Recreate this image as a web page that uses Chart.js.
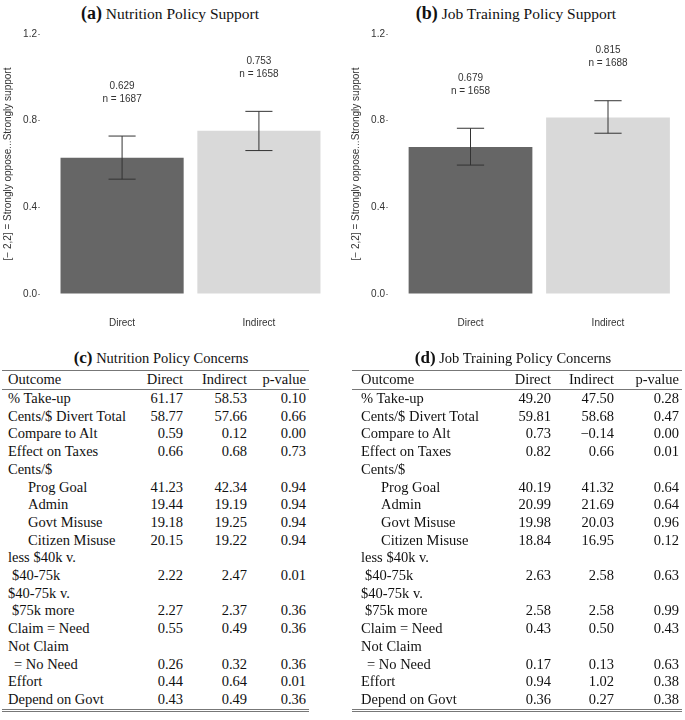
<!DOCTYPE html>
<html>
<head>
<meta charset="utf-8">
<script src="https://cdn.jsdelivr.net/npm/chart.js@4.4.0/dist/chart.umd.min.js"></script>
<style>
body { margin: 0; background: #fff; }
#page { position: relative; width: 685px; height: 720px; overflow: hidden; font-family: "Liberation Serif", "DejaVu Serif", serif; color: #111; }
.panel-title { position: absolute; white-space: nowrap; font-size: 15.5px; transform: translateX(-50%); }
.panel-title b { font-size: 18px; }
.panel-title.small { font-size: 14.5px; }
.panel-title.small b { font-size: 17px; }
.chart-box { position: absolute; top: 0; height: 340px; }
table.concerns { position: absolute; top: 370px; border-collapse: collapse; table-layout: fixed; font-size: 14.5px; border-top: 1px solid #777; border-bottom: 3px double #777; }
table.concerns td, table.concerns th { padding: 0; height: 17.7px; line-height: 17.7px; white-space: nowrap; font-weight: normal; }
table.concerns th { border-bottom: 1px solid #777; height: 18px; }
table.concerns .num { text-align: right; padding-right: 3px; }
table.concerns .lbl { text-align: left; }
</style>
</head>
<body>
<div id="page">
  <div class="panel-title" style="left:170px;top:3px"><b>(a)</b> Nutrition Policy Support</div>
  <div class="panel-title" style="left:516px;top:3px"><b>(b)</b> Job Training Policy Support</div>
  <div class="chart-box" style="left:0;width:341px"><canvas id="chart-nutrition"></canvas></div>
  <div class="chart-box" style="left:340px;width:345px"><canvas id="chart-job"></canvas></div>

  <div class="panel-title small" style="left:161px;top:348px"><b>(c)</b> Nutrition Policy Concerns</div>
  <div class="panel-title small" style="left:513px;top:348px"><b>(d)</b> Job Training Policy Concerns</div>
  <table class="concerns" id="table-nutrition" style="left:2px;width:307px"></table>
  <table class="concerns" id="table-job" style="left:352px;width:330px"></table>
</div>

<script>
// bar panels
const CATEGORIES = ['Direct', 'Indirect'];
const Y_AXIS_TITLE = '[\u2212 2,2] = Strongly oppose...Strongly support';

const NUTR_MEAN = [0.629, 0.753];
const NUTR_LOW = [0.530, 0.662];
const NUTR_HIGH = [0.729, 0.843];
const NUTR_N = [1687, 1658];

const JOB_MEAN = [0.679, 0.815];
const JOB_LOW = [0.595, 0.742];
const JOB_HIGH = [0.765, 0.892];
const JOB_N = [1658, 1688];

// concern tables
const TABLE_HEADER = ['Outcome', 'Direct', 'Indirect', 'p-value'];
const OUTCOMES = ['% Take-up', 'Cents/$ Divert Total', 'Compare to Alt', 'Effect on Taxes', 'Cents/$',
    'Prog Goal', 'Admin', 'Govt Misuse', 'Citizen Misuse', 'less $40k v.', '$40-75k', '$40-75k v.',
    '$75k more', 'Claim = Need', 'Not Claim', '= No Need', 'Effort', 'Depend on Govt'];

const NUTR_DIRECT = [61.17, 58.77, 0.59, 0.66, null, 41.23, 19.44, 19.18, 20.15, null, 2.22, null, 2.27, 0.55, null, 0.26, 0.44, 0.43];
const NUTR_INDIRECT = [58.53, 57.66, 0.12, 0.68, null, 42.34, 19.19, 19.25, 19.22, null, 2.47, null, 2.37, 0.49, null, 0.32, 0.64, 0.49];
const NUTR_P = [0.10, 0.66, 0.00, 0.73, null, 0.94, 0.94, 0.94, 0.94, null, 0.01, null, 0.36, 0.36, null, 0.36, 0.01, 0.36];

const JOB_DIRECT = [49.20, 59.81, 0.73, 0.82, null, 40.19, 20.99, 19.98, 18.84, null, 2.63, null, 2.58, 0.43, null, 0.17, 0.94, 0.36];
const JOB_INDIRECT = [47.50, 58.68, -0.14, 0.66, null, 41.32, 21.69, 20.03, 16.95, null, 2.58, null, 2.58, 0.50, null, 0.13, 1.02, 0.27];
const JOB_P = [0.28, 0.47, 0.00, 0.01, null, 0.64, 0.64, 0.96, 0.12, null, 0.63, null, 0.99, 0.43, null, 0.63, 0.38, 0.38];

const DARK = '#666666';
const LIGHT = '#d9d9d9';
const INK = '#333333';
const SANS = '"Liberation Sans", Arial, sans-serif';

// error bars + "mean / n" labels above each bar
const errorBarPlugin = {
    id: 'errorBars',
    afterDatasetsDraw(chart, args, opts) {
        const { ctx, scales: { x, y } } = chart;
        const bars = chart.getDatasetMeta(0).data;
        ctx.save();
        ctx.strokeStyle = INK;
        ctx.lineWidth = 1;
        ctx.fillStyle = INK;
        ctx.font = `10px ${SANS}`;
        ctx.textAlign = 'center';
        ctx.textBaseline = 'middle';
        opts.low.forEach((lo, i) => {
            const px = x.getPixelForValue(i + 1);
            const yl = y.getPixelForValue(lo);
            const yh = y.getPixelForValue(opts.high[i]);
            const half = bars[i].width * 0.11;
            ctx.beginPath();
            ctx.moveTo(px, yl); ctx.lineTo(px, yh);
            ctx.moveTo(px - half, yl); ctx.lineTo(px + half, yl);
            ctx.moveTo(px - half, yh); ctx.lineTo(px + half, yh);
            ctx.stroke();
            ctx.fillText(opts.means[i].toFixed(3), px, yh - 50);
            ctx.fillText(`n = ${opts.ns[i]}`, px, yh - 37);
        });
        ctx.restore();
    },
};

function renderSupport(id, means, low, high, ns, padLeft, xMax) {
    const canvas = document.getElementById(id);
    if (!canvas) return;

    new Chart(canvas, {
        type: 'bar',
        data: {
            datasets: [{
                data: means.map((m, i) => ({ x: i + 1, y: m })),
                backgroundColor: [DARK, LIGHT],
                borderWidth: 0,
                barPercentage: 0.9,
                categoryPercentage: 1,
            }],
        },
        options: {
            responsive: true,
            maintainAspectRatio: false,
            animation: false,
            layout: { padding: { top: 34, left: padLeft, right: 0, bottom: 0 } },
            plugins: {
                legend: { display: false },
                tooltip: { enabled: false },
                errorBars: { means, low, high, ns },
            },
            scales: {
                x: {
                    type: 'linear',
                    bounds: 'data',
                    offset: false,
                    min: 0.4,
                    max: xMax,
                    afterBuildTicks: (s) => { s.ticks = CATEGORIES.map((c, i) => ({ value: i + 1 })); },
                    afterFit: (s) => { s.height = 46; },
                    grid: { display: false, drawTicks: false, offset: false },
                    border: { display: false },
                    ticks: {
                        autoSkip: false,
                        maxRotation: 0,
                        padding: 23,
                        color: INK,
                        font: { family: SANS, size: 10 },
                        callback: (v) => CATEGORIES[Math.round(v) - 1] ?? '',
                    },
                },
                y: {
                    min: 0,
                    max: 1.2,
                    afterFit: (s) => { s.width = 40; },
                    grid: { drawOnChartArea: false, drawTicks: true, tickLength: 2, color: '#999' },
                    border: { display: false },
                    ticks: {
                        stepSize: 0.4,
                        padding: 1,
                        color: INK,
                        font: { family: SANS, size: 10 },
                        callback: (v) => v.toFixed(1),
                    },
                    title: {
                        display: true,
                        text: Y_AXIS_TITLE,
                        color: INK,
                        padding: { top: 2, bottom: 0 },
                        font: { family: SANS, size: 10 },
                    },
                },
            },
        },
        plugins: [errorBarPlugin],
    });
}

function fmt(v) {
    if (v === null) return '';
    return v < 0 ? '\u2212' + Math.abs(v).toFixed(2) : v.toFixed(2);
}

function renderTable(id, direct, indirect, pvals, widths, padLeft) {
    const table = document.getElementById(id);
    if (!table) return;
    const indent = { 'Prog Goal': 20, 'Admin': 20, 'Govt Misuse': 20, 'Citizen Misuse': 20,
        '$40-75k': 4, '$75k more': 4, '= No Need': 6 };

    const cols = widths.map((w) => `<col style="width:${w}px">`).join('');
    const head = '<tr>' + TABLE_HEADER.map((h, i) =>
        `<th class="${i ? 'num' : 'lbl'}" style="${i ? '' : `padding-left:${padLeft}px`}">${h}</th>`).join('') + '</tr>';
    const body = OUTCOMES.map((o, r) => `<tr>
        <td class="lbl" style="padding-left:${padLeft + (indent[o] ?? 0)}px">${o}</td>
        <td class="num">${fmt(direct[r])}</td>
        <td class="num">${fmt(indirect[r])}</td>
        <td class="num">${fmt(pvals[r])}</td></tr>`).join('');
    table.innerHTML = `<colgroup>${cols}</colgroup><thead>${head}</thead><tbody>${body}</tbody>`;
}

renderSupport('chart-nutrition', NUTR_MEAN, NUTR_LOW, NUTR_HIGH, NUTR_N, 0, 2.6);
renderSupport('chart-job', JOB_MEAN, JOB_LOW, JOB_HIGH, JOB_N, 8, 2.56);
renderTable('table-nutrition', NUTR_DIRECT, NUTR_INDIRECT, NUTR_P, [134, 50, 64, 59], 6);
renderTable('table-job', JOB_DIRECT, JOB_INDIRECT, JOB_P, [153, 49, 63, 65], 9);
</script>
</body>
</html>
